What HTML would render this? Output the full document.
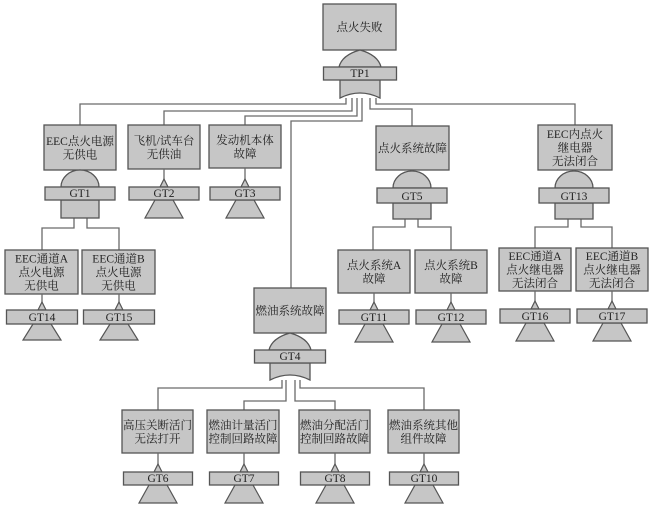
<!DOCTYPE html>
<html><head><meta charset="utf-8"><style>
html,body{margin:0;padding:0;background:#fff;}
svg{display:block;}
text{font-family:"Liberation Serif","Noto Serif CJK SC",serif;font-size:11.5px;fill:#222;text-anchor:middle;}
</style></head><body>
<svg id="s" width="654" height="509" viewBox="0 0 654 509" xmlns="http://www.w3.org/2000/svg">
<g id="lines" fill="none" stroke="#6a6a6a" stroke-width="1.3">
<polyline points="346,98 346,104 80,104 80,125"/>
<polyline points="352,98 352,111 164,111 164,125"/>
<polyline points="357,98 357,116 245,116 245,125"/>
<polyline points="362,98 362,121 291,121 291,288"/>
<polyline points="370,98 370,109 412,109 412,126"/>
<polyline points="376,98 376,104 575,104 575,125"/>
<polyline points="74,218 74,228 42,228 42,250"/>
<polyline points="87,218 87,228 119,228 119,250"/>
<polyline points="405,219 405,227 373,227 373,250"/>
<polyline points="418,219 418,227 451,227 451,250"/>
<polyline points="568,219 568,227 535,227 535,248"/>
<polyline points="581,219 581,227 612,227 612,248"/>
<polyline points="282,380 282,388 158,388 158,410"/>
<polyline points="286,380 286,401 244,401 244,410"/>
<polyline points="295,380 295,401 335,401 335,410"/>
<polyline points="300,380 300,388 424,388 424,410"/>
</g>
<g id="g"></g>
</svg>
<script>
var g=document.getElementById('g'),h='';
var F='#c6c6c6',S='#555';
function box(x1,y1,x2,y2,lines){
 h+='<rect x="'+x1+'" y="'+y1+'" width="'+(x2-x1)+'" height="'+(y2-y1)+'" fill="'+F+'" stroke="'+S+'" stroke-width="1.3"/>';
 var cx=(x1+x2)/2,cy=(y1+y2)/2,n=lines.length,lh=13.5;
 for(var i=0;i<n;i++){h+='<text x="'+cx+'" y="'+(cy+(i-(n-1)/2)*lh+4)+'">'+lines[i]+'</text>';}
}
function bar(x1,y1,x2,y2,t){
 h+='<rect x="'+x1+'" y="'+y1+'" width="'+(x2-x1)+'" height="'+(y2-y1)+'" fill="'+F+'" stroke="'+S+'" stroke-width="1.3"/>';
 h+='<text x="'+(x1+x2)/2+'" y="'+(y2-3)+'">'+t+'</text>';
}
function vline(x,y1,y2){h+='<line x1="'+x+'" y1="'+y1+'" x2="'+x+'" y2="'+y2+'" stroke="#6a6a6a" stroke-width="1.3"/>';}
function andG(cx,boxBot,y1,y2,y3,bw,t){
 vline(cx,boxBot,y1-14);
 h+='<path d="M'+(cx-19)+','+y1+' A19,17 0 0 1 '+(cx+19)+','+y1+' Z" fill="'+F+'" stroke="'+S+'" stroke-width="1.3"/>';
 h+='<rect x="'+(cx-19)+'" y="'+y2+'" width="38" height="'+(y3-y2)+'" fill="'+F+'" stroke="'+S+'" stroke-width="1.3"/>';
 bar(cx-bw/2,y1,cx+bw/2,y2,t);
}
function orG(cx,boxBot,y1,y2,y3,bw,t){
 vline(cx,boxBot,y1-15);
 h+='<path d="M'+(cx-21)+','+y1+' Q'+(cx-18)+','+(y1-12)+' '+cx+','+(y1-17)+' Q'+(cx+18)+','+(y1-12)+' '+(cx+21)+','+y1+' Z" fill="'+F+'" stroke="'+S+'" stroke-width="1.3"/>';
 h+='<path d="M'+(cx-20)+','+y2+' L'+(cx+20)+','+y2+' L'+(cx+20)+','+y3+' Q'+cx+','+(y3-10)+' '+(cx-20)+','+y3+' Z" fill="'+F+'" stroke="'+S+'" stroke-width="1.3"/>';
 bar(cx-bw/2,y1,cx+bw/2,y2,t);
}
function tr(cx,boxBot,y1,y2,y3,bw,t){
 vline(cx,boxBot,y1-8);
 h+='<path d="M'+(cx-4)+','+y1+' L'+cx+','+(y1-8)+' L'+(cx+4)+','+y1+' Z" fill="'+F+'" stroke="'+S+'" stroke-width="1.2"/>';
 h+='<path d="M'+(cx-9)+','+y2+' L'+(cx+9)+','+y2+' L'+(cx+19)+','+y3+' L'+(cx-19)+','+y3+' Z" fill="'+F+'" stroke="'+S+'" stroke-width="1.2"/>';
 bar(cx-bw/2,y1,cx+bw/2,y2,t);
}
box(323,4,396,50,['点火失败']);
orG(360,50,67,80,98,73,'TP1');
box(44,125,116,170,['EEC点火电源','无供电']);
andG(80,170,187,200,218,70,'GT1');
box(128,125,200,169,['飞机/试车台','无供油']);
tr(164,169,187,200,218,70,'GT2');
box(209,125,281,168,['发动机本体','故障']);
tr(245,168,187,200,218,70,'GT3');
box(376,126,449,170,['点火系统故障']);
andG(412,170,188,203,219,70,'GT5');
box(538,125,612,170,['EEC内点火','继电器','无法闭合']);
andG(574,170,188,203,219,70,'GT13');
box(5,250,78,294,['EEC通道A','点火电源','无供电']);
tr(42,294,310,324,340,71,'GT14');
box(82,250,155,294,['EEC通道B','点火电源','无供电']);
tr(119,294,310,324,340,71,'GT15');
box(338,250,410,293,['点火系统A','故障']);
tr(374,293,310,324,342,70,'GT11');
box(415,250,487,293,['点火系统B','故障']);
tr(451,293,310,324,342,70,'GT12');
box(499,248,571,291,['EEC通道A','点火继电器','无法闭合']);
tr(535,291,309,323,341,70,'GT16');
box(576,248,648,291,['EEC通道B','点火继电器','无法闭合']);
tr(612,291,309,323,341,70,'GT17');
box(254,288,326,333,['燃油系统故障']);
orG(290,333,350,363,380,71,'GT4');
box(122,410,193,453,['高压关断活门','无法打开']);
tr(158,453,472,485,503,69,'GT6');
box(207,410,279,453,['燃油计量活门','控制回路故障']);
tr(244,453,472,485,503,69,'GT7');
box(299,410,370,453,['燃油分配活门','控制回路故障']);
tr(335,453,472,485,503,69,'GT8');
box(388,410,459,453,['燃油系统其他','组件故障']);
tr(424,453,472,485,503,69,'GT10');
g.innerHTML=h;
</script>
</body></html>
